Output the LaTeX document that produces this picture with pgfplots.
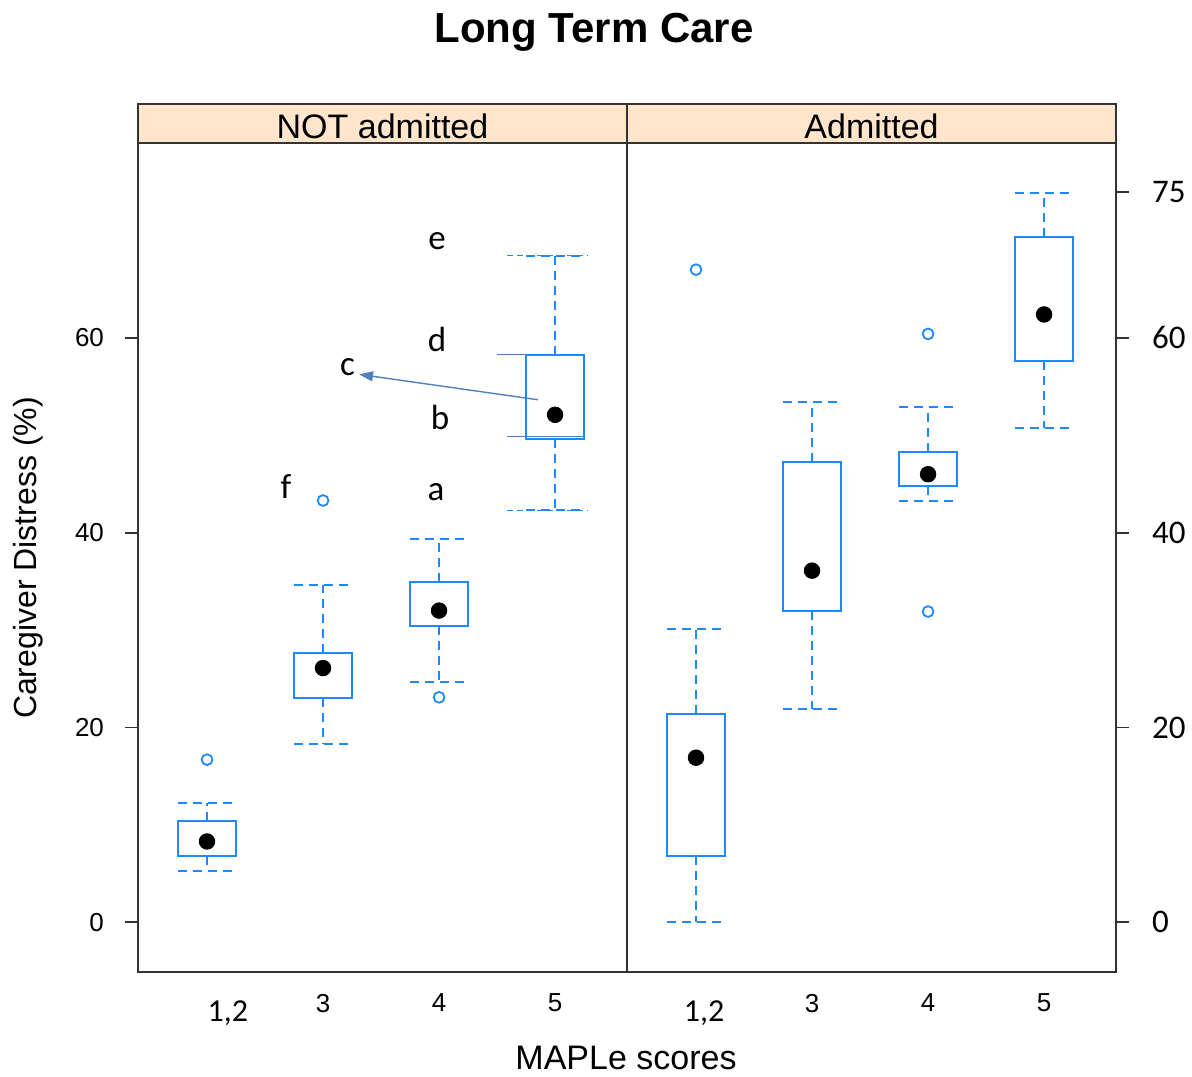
\documentclass[border=0pt]{standalone}
\usepackage{pgfplots}
\pgfplotsset{compat=1.18}
\usepgfplotslibrary{statistics}
\usetikzlibrary{arrows.meta}
\usepackage{fontspec}
\setmainfont{Liberation Sans}
\newfontfamily\calfont{Carlito}
\definecolor{boxblue}{RGB}{30,136,255}
\definecolor{stripcol}{HTML}{FFE5CC}
\definecolor{annblue}{HTML}{4F81BD}
\definecolor{framecol}{HTML}{333333}
\begin{document}
\begin{tikzpicture}
\useasboundingbox (-69pt,-52pt) rectangle (527pt,486pt);
\pgfplotsset{
  panel/.style={
    scale only axis, width=244.5pt, height=414.5pt,
    xmin=0.405, xmax=4.62, ymin=-5.1, ymax=80,
    clip=false,
    axis line style={framecol, line width=1pt},
    xtick={2,3,4}, xticklabels={3,4,5},
    xtick style={draw=none},
    xticklabel style={font=\fontsize{13}{15}\selectfont, yshift=-1pt},
    /pgf/number format/assume math mode=true,
    tick style={framecol, line width=0.9pt},
    tick align=outside, major tick length=6.5pt,
    boxplot/draw direction=y,
    boxplot/box extend=0.5,
    boxplot/whisker extend=0.5,
    boxplot/draw/median/.code={},
    boxplot/every box/.style={boxblue, line width=1pt},
    boxplot/every whisker/.style={boxblue, line width=1pt, dash pattern=on 4.5pt off 3pt},
  },
  bx/.style={boxplot prepared={#1}, boxblue, mark=none, solid},
  med/.style={only marks, mark=*, mark size=3.9pt, black},
  outl/.style={only marks, mark=o, mark size=2.7pt, boxblue, mark options={line width=0.9pt}},
}
% ---------- left panel ----------
\begin{axis}[panel,
  ytick={0,20,40,60}, ytick pos=left,
  yticklabel style={font=\fontsize{13}{15}\selectfont, xshift=-7pt},
  extra x ticks={1.18}, extra x tick labels={{\calfont 1{,}2}},
  extra x tick style={xticklabel style={font=\fontsize{16}{18}\selectfont, yshift=-3.5pt}},
]
\addplot[bx={draw position=1, lower whisker=5.3, lower quartile=6.8, median=8.3, upper quartile=10.4, upper whisker=12.3}] coordinates {};
\addplot[bx={draw position=2, lower whisker=18.3, lower quartile=23.0, median=26.1, upper quartile=27.6, upper whisker=34.6}] coordinates {};
\addplot[bx={draw position=3, lower whisker=24.7, lower quartile=30.4, median=32.0, upper quartile=34.9, upper whisker=39.3}] coordinates {};
\addplot[bx={draw position=4, lower whisker=42.3, lower quartile=49.6, median=52.1, upper quartile=58.2, upper whisker=68.4}] coordinates {};
\addplot[med] coordinates {(1,8.3) (2,26.1) (3,32.0) (4,52.1)};
\addplot[outl] coordinates {(1,16.7) (2,43.3) (3,23.1)};
% annotation overlay
\draw[annblue, line width=0.5pt] (axis cs:3.5,58.25) -- (axis cs:3.76,58.25);
\draw[annblue, line width=0.5pt] (axis cs:3.586,49.85) -- (axis cs:4.24,49.85);
\draw[boxblue, line width=0.5pt, dash pattern=on 3pt off 2pt] (axis cs:3.586,68.4) -- (axis cs:4.28,68.4);
\draw[boxblue, line width=0.5pt, dash pattern=on 3pt off 2pt] (axis cs:3.586,42.3) -- (axis cs:4.28,42.3);
\draw[annblue, line width=0.7pt, -{Triangle[length=7pt,width=5pt]}] (axis cs:3.853,53.64) -- (axis cs:2.31,56.25);
\begin{scope}[every node/.style={font=\calfont\fontsize{17.5}{20}\selectfont}]
\node at (axis cs:2.983,69.9) {e};
\node at (axis cs:2.983,59.8) {d};
\node at (axis cs:2.21,57.0) {c};
\node at (axis cs:3.009,51.8) {b};
\node at (axis cs:2.974,44.2) {a};
\node at (axis cs:1.681,44.7) {f};
\end{scope}
% strip
\draw[framecol, line width=1pt, fill=stripcol] (rel axis cs:0,1) rectangle ([yshift=19.5pt]rel axis cs:1,1);
\node[font=\fontsize{17}{19}\selectfont, anchor=center] at ([yshift=8.5pt]rel axis cs:0.5,1) {NOT admitted};
\end{axis}
% ---------- right panel ----------
\begin{axis}[panel, at={(244.5pt,0)},
  ytick={0,20,40,60,75}, ytick pos=right,
  yticklabels={0,20,40,60,75},
  yticklabel style={font=\calfont\fontsize{16.5}{18}\selectfont, xshift=8pt, yshift=0pt},
  extra x ticks={1.07}, extra x tick labels={{\calfont 1{,}2}},
  extra x tick style={xticklabel style={font=\fontsize{16}{18}\selectfont, yshift=-3.5pt}},
]
\addplot[bx={draw position=1, lower whisker=0, lower quartile=6.8, median=16.9, upper quartile=21.4, upper whisker=30.1}] coordinates {};
\addplot[bx={draw position=2, lower whisker=21.9, lower quartile=32.0, median=36.1, upper quartile=47.3, upper whisker=53.4}] coordinates {};
\addplot[bx={draw position=3, lower whisker=43.3, lower quartile=44.8, median=46.0, upper quartile=48.3, upper whisker=52.9}] coordinates {};
\addplot[bx={draw position=4, lower whisker=50.7, lower quartile=57.6, median=62.4, upper quartile=70.3, upper whisker=74.9}] coordinates {};
\addplot[med] coordinates {(1,16.9) (2,36.1) (3,46.0) (4,62.4)};
\addplot[outl] coordinates {(1,67.0) (3,60.4) (3,31.9)};
\draw[framecol, line width=1pt, fill=stripcol] (rel axis cs:0,1) rectangle ([yshift=19.5pt]rel axis cs:1,1);
\node[font=\fontsize{17}{19}\selectfont, anchor=center] at ([yshift=8.5pt]rel axis cs:0.5,1) {Admitted};
\end{axis}
\node[font=\bfseries\fontsize{21}{24}\selectfont] at (228pt,470pt) {Long Term Care};
\node[font=\fontsize{17}{19}\selectfont] at (244pt,-43pt) {MAPLe scores};
\node[font=\fontsize{16}{18}\selectfont, rotate=90] at (-55pt,207pt) {Caregiver Distress (\%)};
\end{tikzpicture}
\end{document}
